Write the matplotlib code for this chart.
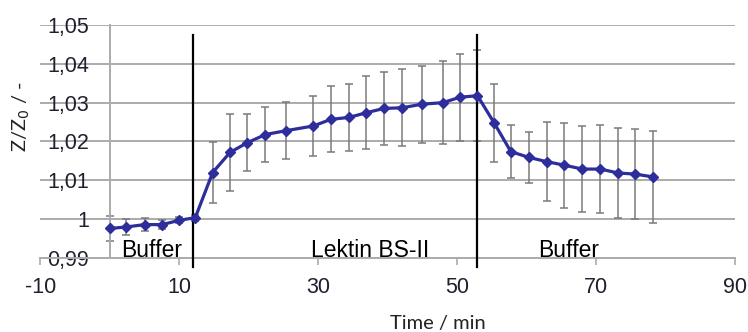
import matplotlib
matplotlib.use("Agg")
import matplotlib.pyplot as plt
import numpy as np

# Measurement times (min)
time_min = [0, 2.4, 5, 7.5, 10, 12.3, 14.8, 17.3, 19.8, 22.4, 25.4, 29.3, 31.8,
            34.4, 36.9, 39.4, 42.1, 44.9, 47.9, 50.4, 52.9, 55.3, 57.7, 60.3,
            62.9, 65.4, 68.0, 70.6, 73.1, 75.6, 78.1]
# Normalised impedance Z/Z0
z_ratio = [0.9976, 0.9980, 0.9986, 0.9986, 0.9997, 1.0004, 1.0120, 1.0172,
           1.0197, 1.0218, 1.0228, 1.0240, 1.0257, 1.0262, 1.0274, 1.0285,
           1.0287, 1.0296, 1.0300, 1.0314, 1.0318, 1.0248, 1.0174, 1.0159,
           1.0148, 1.0139, 1.0129, 1.0129, 1.0119, 1.0116, 1.0109]
# Standard deviation
z_err = [0.0033, 0.0020, 0.0016, 0.0012, 0.0008, 0.0008, 0.0079, 0.0100,
         0.0073, 0.0072, 0.0074, 0.0078, 0.0085, 0.0086, 0.0094, 0.0094,
         0.0099, 0.0099, 0.0107, 0.0112, 0.0117, 0.0100, 0.0068, 0.0065,
         0.0101, 0.0109, 0.0111, 0.0114, 0.0116, 0.0115, 0.0118]

# Phase boundaries (min) and phase labels
phase_bounds = [12.0, 52.9]
phase_labels = ["Buffer", "Lektin BS-II", "Buffer"]
phase_label_x = [6.0, 37.5, 66.0]

x_ticks = [-10, 10, 30, 50, 70, 90]
y_ticks = [0.99, 1.00, 1.01, 1.02, 1.03, 1.04, 1.05]
y_ticklabels = ["0,99", "1", "1,01", "1,02", "1,03", "1,04", "1,05"]

W, H = 748, 332
fig = plt.figure(figsize=(W / 100, H / 100), dpi=100)
ax = fig.add_axes([40.3 / W, 1 - 258 / H, 695 / W, 233 / H])

grid_c = "#ababab"
txt_c = "#1f1f2e"

ax.set_xlim(-10, 90)
ax.set_ylim(0.99, 1.05)
for yv in y_ticks:
    ax.axhline(yv, color=grid_c, lw=1.4, zorder=0)

for s in ["top", "right"]:
    ax.spines[s].set_visible(False)
ax.spines["left"].set_position(("data", 0))
ax.spines["left"].set_color(grid_c)
ax.spines["left"].set_linewidth(1.4)
ax.spines["bottom"].set_color(grid_c)
ax.spines["bottom"].set_linewidth(1.4)

ax.set_xticks(x_ticks)
ax.set_xticklabels([str(v) for v in x_ticks])
ax.set_yticks(y_ticks)
ax.set_yticklabels(y_ticklabels)
ax.tick_params(axis="x", direction="out", length=5, width=1.2, color=grid_c,
               labelsize=15.5, labelcolor=txt_c, pad=9)
ax.tick_params(axis="y", length=0, labelsize=15.5, labelcolor=txt_c, pad=15)
for lab in ax.get_xticklabels() + ax.get_yticklabels():
    lab.set_family("Liberation Sans")

# Phase boundaries
for xb in phase_bounds:
    ax.plot([xb, xb], [0.9877, 1.0474], color="black", lw=1.6, clip_on=False,
            zorder=3)

ax.errorbar(time_min, z_ratio, yerr=z_err, fmt="none", ecolor="#7a7a7a",
            elinewidth=1.1, capsize=3, capthick=1.1, zorder=2)
ax.plot(time_min, z_ratio, color="#2d2d9b", lw=2.3, marker="D",
        markersize=5.5, zorder=4)

for xl, t in zip(phase_label_x, phase_labels):
    ax.text(xl, 0.9919, t, ha="center", va="center", fontsize=16.5,
            family="Liberation Sans", color="black", zorder=5)

fig.text(438 / W, 1 - 323 / H, "Time / min", ha="center", va="center",
         fontsize=14.5, family="Lato", color="#222222")
fig.text(21 / W, 1 - 117 / H, r"Z/Z$_0$ / -", ha="center", va="center",
         rotation=90, fontsize=14.5, family="Lato", color="#222222")

fig.savefig("out.png", dpi=100)
